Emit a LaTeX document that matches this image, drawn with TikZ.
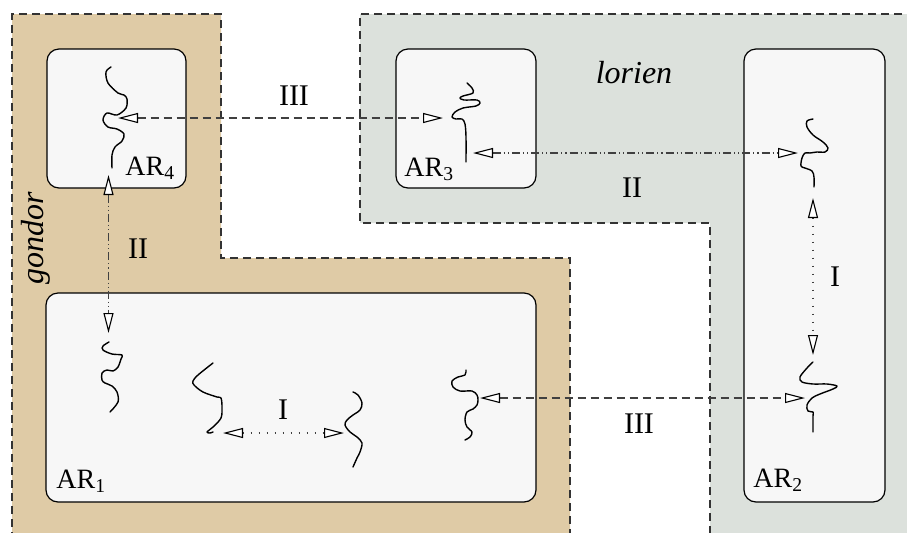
\documentclass[tikz,border=0pt]{standalone}
\usepackage{fontspec}
\setmainfont{Liberation Serif}
\usetikzlibrary{arrows.meta,fit}
\definecolor{gondortan}{RGB}{223,203,166}
\definecolor{loriengray}{RGB}{220,225,220}
\definecolor{boxfill}{RGB}{247,247,247}
\tikzset{
  region/.style={draw=black!80, line width=0.6pt, dash pattern=on 4pt off 2.5pt},
  arbox/.style={draw=black, fill=boxfill, line width=0.6pt, rounded corners=6pt, inner sep=0pt},
  strand/.style={line width=0.7pt, line cap=round, line join=round},
  tri/.tip={Triangle[length=10pt, width=5pt, color=black, fill=white, line width=0.55pt]},
  link/.style={draw=black!75, line width=0.55pt, tri-tri},
  typeI/.style={link, dash pattern=on 0.55pt off 3.45pt},
  typeII/.style={link, dash pattern=on 4pt off 1.5pt on 0.55pt off 1.5pt on 0.55pt off 1.5pt},
  typeIII/.style={link, dash pattern=on 4pt off 2.5pt},
  arlabel/.style={font=\fontsize{14}{16}\selectfont, inner sep=0pt, anchor=base west},
  numlabel/.style={font=\fontsize{15}{17}\selectfont, inner sep=0pt, anchor=base},
  realm/.style={font=\fontsize{16}{18}\selectfont\itshape, inner sep=0pt, anchor=base}
}
\begin{document}
\begin{tikzpicture}[x=0.5pt, y=-0.5pt]
  \useasboundingbox (0,0) rectangle (907,532);
  \clip (0,0) rectangle (907,532);
  % realms
  \fill[gondortan] (12,14) -- (221,14) -- (221,258) -- (570,258) -- (570,540) -- (12,540) -- cycle;
  \draw[region] (12,540) -- (12,14) -- (221,14) -- (221,258) -- (570,258) -- (570,540);
  \fill[loriengray] (360,14) -- (915,14) -- (915,540) -- (710,540) -- (710,223) -- (360,223) -- cycle;
  \draw[region] (915,14) -- (360,14) -- (360,223) -- (710,223) -- (710,540);
  \node[realm, rotate=90] (gondor) at (43,238) {gondor};
  \node[realm] (lorien) at (634,83) {lorien};
  % regions
  \node[arbox, fit={(47,49) (186,188)}] (ar4) {};
  \node[arbox, fit={(396,49) (536,188)}] (ar3) {};
  \node[arbox, fit={(744,49) (885,502)}] (ar2) {};
  \node[arbox, fit={(46,293) (536,502)}] (ar1) {};
  \node[arlabel] (ar4lbl) at (125,175) {AR\textsubscript{4}};
  \node[arlabel] (ar3lbl) at (404,176) {AR\textsubscript{3}};
  \node[arlabel] (ar2lbl) at (753,487) {AR\textsubscript{2}};
  \node[arlabel] (ar1lbl) at (56,488) {AR\textsubscript{1}};
  % strands
  \draw[strand] plot[smooth, tension=0.55] coordinates {(111,67) (106,72) (108,83) (118,93) (124,95) (127,99) (126,108) (117,115) (107,113) (103,120) (108,127) (117,129) (124,134) (122,141) (115,147) (112,155) (112,168)};
  \draw[strand] plot[smooth, tension=0.55] coordinates {(467,83) (472,88) (473,93) (463,96) (460,98) (464,100) (477,100) (480,103) (476,106) (463,108) (455,112) (452,117) (456,119) (462,119) (465,124) (466,137) (466,162)};
  \draw[strand] plot[smooth, tension=0.55] coordinates {(813,119) (807,121) (807,127) (813,135) (823,142) (828,148) (825,152) (817,152) (810,153) (805,153) (802,158) (801,166) (805,168) (812,171) (814,177) (814,187)};
  \draw[strand] plot[smooth, tension=0.55] coordinates {(813,362) (807,368) (800,377) (802,382) (813,384) (827,384) (837,386) (833,389) (820,394) (812,398) (807,405) (808,411) (813,412) (813,416) (813,432)};
  \draw[strand] plot[smooth, tension=0.55] coordinates {(109,342) (103,346) (103,350) (112,354) (122,355) (121,359) (118,367) (113,371) (107,370) (102,373) (102,380) (105,383) (112,386) (117,392) (118,402) (110,412)};
  \draw[strand] plot[smooth, tension=0.55] coordinates {(213,363) (198,375) (193,381) (194,385) (203,392) (217,397) (221,398) (222,407) (221,418) (213,427) (207,432) (210,433) (213,432)};
  \draw[strand] plot[smooth, tension=0.55] coordinates {(353,392) (358,395) (362,403) (360,410) (353,415) (347,420) (345,425) (350,432) (357,437) (362,443) (360,452) (357,458) (353,467)};
  \draw[strand] plot[smooth, tension=0.55] coordinates {(466,370) (465,375) (458,377) (452,381) (453,387) (460,391) (472,391) (477,395) (478,400) (477,405) (473,409) (467,412) (465,420) (467,427) (472,432) (470,437) (465,440)};
  % link ends
  \coordinate (e4a) at (118,118);
  \coordinate (e3a) at (443,118);
  \coordinate (e3b) at (473,153);
  \coordinate (e2a) at (798,153);
  \coordinate (e2b) at (813,198);
  \coordinate (e2c) at (813,355);
  \coordinate (e1a) at (480,398);
  \coordinate (e2d) at (805,398);
  \coordinate (e1b) at (223,433);
  \coordinate (e1c) at (344,433);
  \coordinate (e4b) at (108.5,175);
  \coordinate (e1d) at (108.5,333);
  % links
  \begin{scope}
    \draw[typeIII] (e4a) -- (e3a);
    \draw[typeII] (e3b) -- (e2a);
    \draw[typeI] (e2b) -- (e2c);
    \draw[typeIII] (e1a) -- (e2d);
    \draw[typeI] (e1b) -- (e1c);
    \draw[typeII] (e4b) -- (e1d);
  \end{scope}
  \node[numlabel] (l3a) at (294,105) {III};
  \node[numlabel] (l2a) at (632,197) {II};
  \node[numlabel] (l1a) at (835,286) {I};
  \node[numlabel] (l3b) at (639,433) {III};
  \node[numlabel] (l1b) at (283,419) {I};
  \node[numlabel] (l2b) at (138,258) {II};
\end{tikzpicture}
\end{document}
